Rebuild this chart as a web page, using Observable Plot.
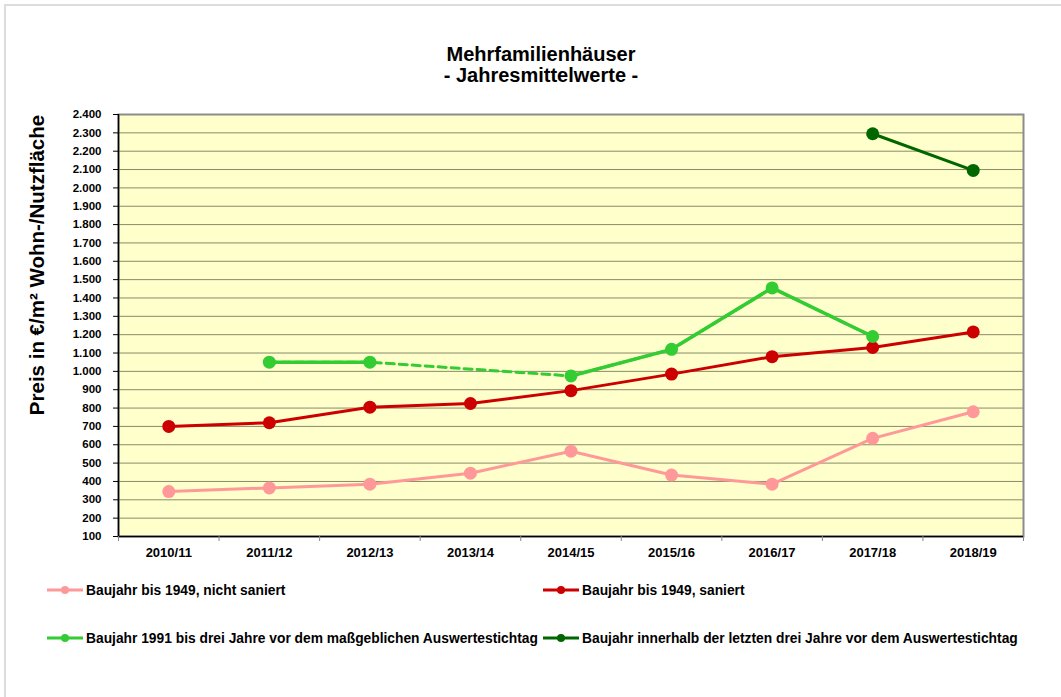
<!DOCTYPE html>
<html>
<head>
<meta charset="utf-8">
<script src="https://cdn.jsdelivr.net/npm/d3@7"></script>
<script src="https://cdn.jsdelivr.net/npm/@observablehq/plot@0.6"></script>
<style>
  html, body { margin: 0; padding: 0; background: #fff; }
  #chart { position: relative; width: 1061px; height: 697px; background: #fff; font-family: "Liberation Sans", Arial, sans-serif; font-weight: bold; color: #000; overflow: hidden; }
  #border { position: absolute; left: 4px; top: 4px; width: 1100px; height: 800px; border-top: 2px solid #dcdcdc; border-left: 2px solid #dcdcdc; }
  #title { position: absolute; left: 21px; width: 1040px; top: 44px; text-align: center; font-size: 20px; line-height: 21px; }
  #ytitle { position: absolute; left: 37px; top: 265px; transform: translate(-50%, -50%) rotate(-90deg); white-space: nowrap; font-size: 20.5px; }
  #plot { position: absolute; left: 0; top: 100px; }
  .leg { position: absolute; display: flex; align-items: center; font-size: 13.8px; white-space: nowrap; }
  .leg svg { margin-right: 3px; }
</style>
</head>
<body>
<div id="chart">
  <div id="border"></div>
  <div id="title">Mehrfamilienhäuser<br>- Jahresmittelwerte -</div>
  <div id="ytitle">Preis in €/m² Wohn-/Nutzfläche</div>
  <div id="plot"></div>
  <div id="legend"></div>
</div>
<script>
// ---- data ----
const categories = ["2010/11", "2011/12", "2012/13", "2013/14", "2014/15", "2015/16", "2016/17", "2017/18", "2018/19"];
const nichtSaniert = [345, 365, 385, 445, 565, 435, 385, 635, 780];
const saniert = [700, 720, 805, 825, 895, 985, 1080, 1130, 1215];
const baujahr1991 = [null, 1050, 1050, null, 975, 1120, 1455, 1190, null];
const neubau = [null, null, null, null, null, null, null, 2295, 2095];
const yTicks = d3.range(100, 2401, 100);

const seriesNames = [
  "Baujahr bis 1949, nicht saniert",
  "Baujahr bis 1949, saniert",
  "Baujahr 1991 bis drei Jahre vor dem maßgeblichen Auswertestichtag",
  "Baujahr innerhalb der letzten drei Jahre vor dem Auswertestichtag"
];
const seriesColors = ["#FF9999", "#CC0000", "#33CC33", "#006600"];
const seriesValues = [nichtSaniert, saniert, baujahr1991, neubau];

const rows = (vals) => vals.map((v, i) => ({i: i + 0.5, v}));
const defined = (vals) => rows(vals).filter(d => d.v != null);

const fmt = d3.formatLocale({decimal: ",", thousands: ".", grouping: [3], currency: ["", "€"]}).format(",");

const marks = [
  Plot.frame({fill: "#FFFFCC", stroke: null}),
  Plot.gridY(yTicks, {stroke: "#8a8a6a", strokeOpacity: 1, strokeWidth: 1}),
  Plot.frame({stroke: "#8c8c8c", strokeWidth: 2}),
  Plot.ruleX([0], {stroke: "#000", strokeWidth: 1.5}),
  Plot.ruleY([100], {stroke: "#000", strokeWidth: 1.5}),
  Plot.axisY({ticks: yTicks, tickFormat: fmt, tickSize: 5, tickPadding: 12, label: null, fontWeight: "bold", fontSize: 11.5}),
  Plot.axisX({ticks: d3.range(0, categories.length + 1), tickFormat: () => "", tickSize: 5, label: null, stroke: "#888"}),
  Plot.axisX({ticks: categories.map((c, i) => i + 0.5), tickFormat: d => categories[Math.floor(d)], tickSize: 0, tickPadding: 11, label: null, fontWeight: "bold", fontSize: 13}),
  // dashed bridge for the gap in the 1991 series
  Plot.line(defined(baujahr1991), {x: "i", y: "v", stroke: seriesColors[2], strokeWidth: 3, strokeDasharray: "8,5"})
];
seriesValues.forEach((vals, k) => {
  marks.push(Plot.line(rows(vals), {x: "i", y: "v", stroke: seriesColors[k], strokeWidth: k === 2 ? 3.5 : 3, defined: d => d.v != null}));
  marks.push(Plot.dot(defined(vals), {x: "i", y: "v", fill: seriesColors[k], r: 6.5}));
});

const chart = Plot.plot({
  width: 1061,
  height: 470,
  marginTop: 14,
  marginLeft: 118,
  marginRight: 38,
  marginBottom: 34,
  style: {fontFamily: "'Liberation Sans', Arial, sans-serif", fontSize: "11px", fontWeight: "bold", background: "transparent", color: "#000"},
  x: {type: "linear", domain: [0, categories.length]},
  y: {type: "linear", domain: [100, 2400]},
  marks
});
document.getElementById("plot").appendChild(chart);

// ---- legend ----
const legendPos = [[47, 590], [543, 590], [47, 638], [543, 638]];
const legend = document.getElementById("legend");
seriesNames.forEach((name, k) => {
  const div = document.createElement("div");
  div.className = "leg";
  div.style.left = legendPos[k][0] + "px";
  div.style.top = (legendPos[k][1] - 9) + "px";
  div.style.height = "18px";
  div.innerHTML = `<svg width="36" height="10"><line x1="0" y1="5" x2="36" y2="5" stroke="${seriesColors[k]}" stroke-width="3"/><circle cx="18" cy="5" r="4" fill="${seriesColors[k]}"/></svg><span>${name}</span>`;
  legend.appendChild(div);
});
</script>
</body>
</html>
